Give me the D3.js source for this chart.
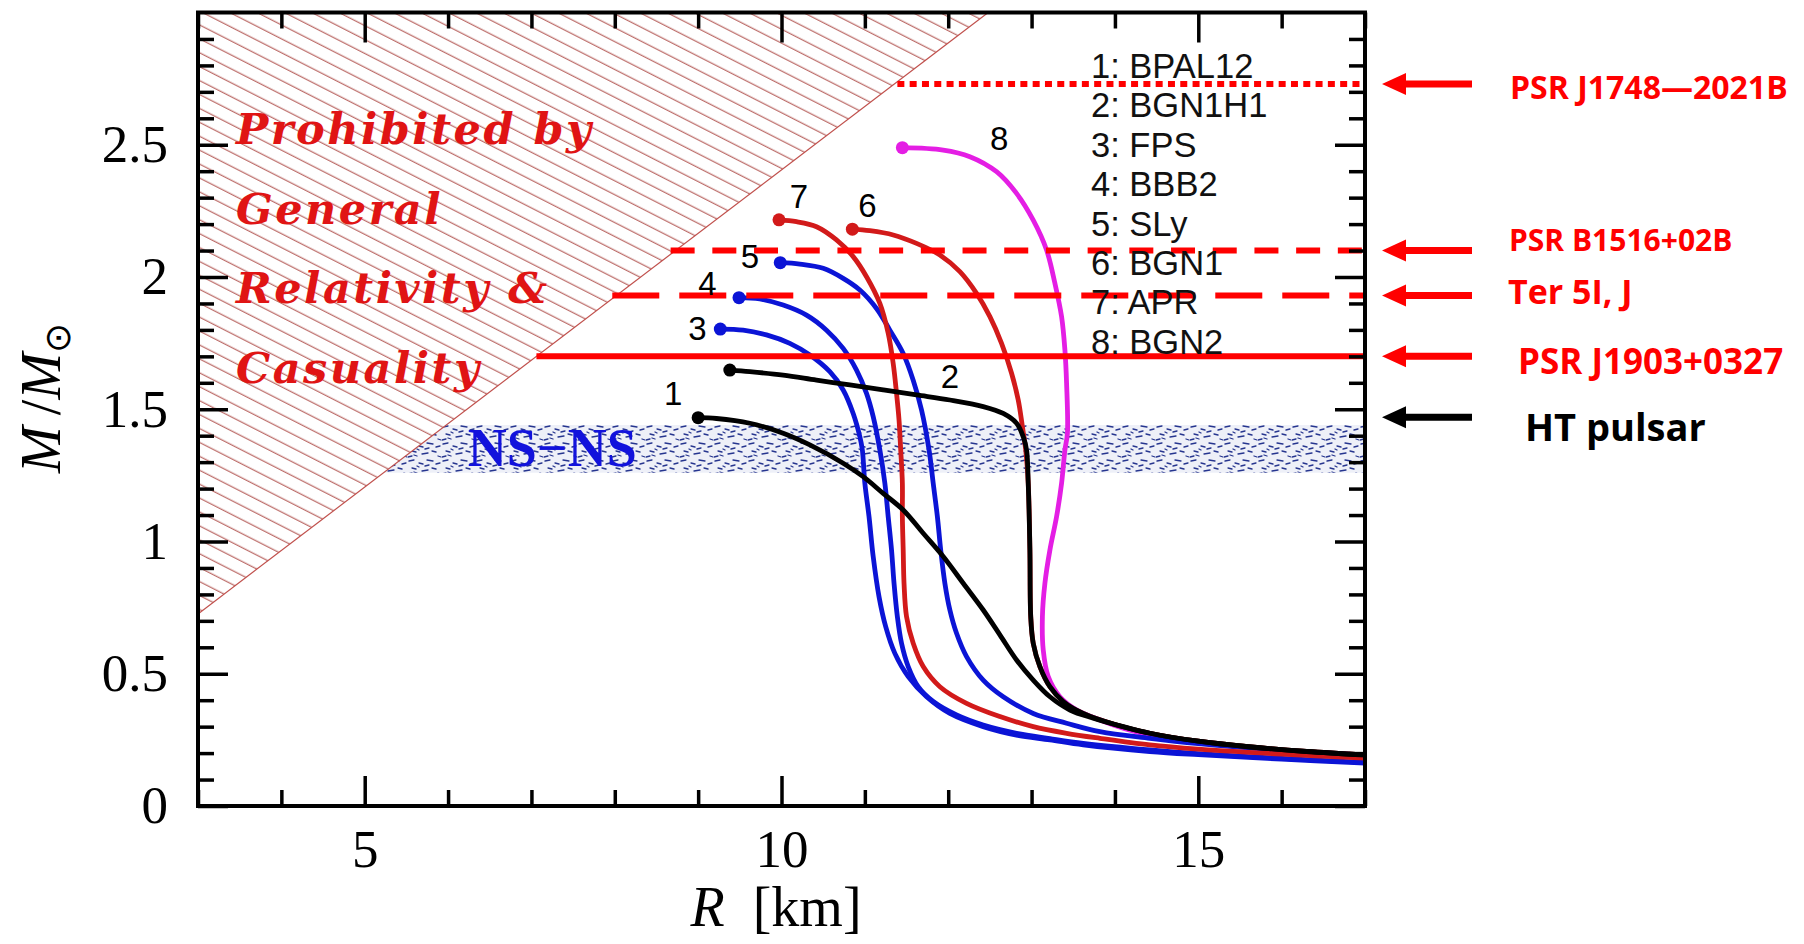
<!DOCTYPE html>
<html>
<head>
<meta charset="utf-8">
<script src="https://cdn.jsdelivr.net/npm/d3@7"></script>
<style>
  body { margin: 0; background: #fff; }
  svg { display: block; }
</style>
</head>
<body>
<svg width="1804" height="944"></svg>
<script>
// mass-radius relations, [R (km), M/Msun]
const bpal12 = [[9.00,1.468],[9.22,1.465],[9.62,1.447],[10.02,1.409],[10.34,1.365],[10.74,1.296],[10.98,1.245],[11.22,1.182],[11.46,1.119],[11.70,1.031],[11.94,0.943],[12.18,0.842],[12.42,0.741],[12.62,0.647],[12.82,0.552],[13.02,0.476],[13.22,0.413],[13.46,0.363],[13.74,0.332],[14.10,0.300],[14.42,0.275],[15,0.245],[15.6,0.224],[16.3,0.206],[17,0.193]];
const bgn1h1 = [[9.38,1.648],[9.62,1.642],[10.02,1.629],[10.42,1.610],[10.82,1.592],[11.22,1.573],[11.62,1.554],[12.02,1.535],[12.42,1.510],[12.66,1.484],[12.82,1.447],[12.90,1.396],[12.94,1.346],[12.96,1.220],[12.98,0.968],[12.99,0.716],[13.02,0.615],[13.10,0.527],[13.22,0.451],[13.38,0.395],[13.62,0.350],[14.02,0.306],[14.42,0.275],[15,0.245],[15.6,0.224],[16.3,0.206],[17,0.193]];
const fps = [[9.266,1.803],[9.54,1.799],[9.82,1.781],[10.10,1.749],[10.34,1.705],[10.58,1.642],[10.74,1.573],[10.86,1.484],[10.94,1.396],[10.97,1.346],[11.00,1.220],[11.05,1.094],[11.10,0.943],[11.17,0.791],[11.25,0.678],[11.36,0.577],[11.52,0.489],[11.74,0.413],[12.02,0.350],[12.42,0.300],[12.82,0.268],[13.22,0.250],[13.62,0.231],[14.42,0.206],[15,0.194],[16,0.177],[17,0.162]];
const bbb2 = [[9.49,1.922],[9.74,1.917],[10.02,1.894],[10.30,1.856],[10.54,1.799],[10.74,1.730],[10.90,1.648],[11.02,1.560],[11.10,1.472],[11.18,1.346],[11.24,1.220],[11.28,1.094],[11.32,0.968],[11.35,0.842],[11.39,0.716],[11.44,0.615],[11.52,0.527],[11.64,0.451],[11.82,0.395],[12.10,0.344],[12.42,0.306],[12.82,0.275],[13.22,0.255],[13.62,0.237],[14.42,0.212],[15,0.198],[16,0.180],[17,0.165]];
const sly = [[9.985,2.054],[10.22,2.049],[10.50,2.033],[10.74,1.995],[10.94,1.951],[11.14,1.881],[11.30,1.799],[11.46,1.711],[11.58,1.610],[11.68,1.497],[11.77,1.346],[11.82,1.220],[11.87,1.094],[11.91,0.968],[11.96,0.842],[12.02,0.741],[12.10,0.653],[12.22,0.565],[12.42,0.476],[12.66,0.413],[13.02,0.350],[13.42,0.313],[13.82,0.281],[14.42,0.256],[15,0.236],[16,0.210],[17,0.190]];
const bgn1 = [[10.85,2.181],[11.06,2.175],[11.34,2.159],[11.62,2.127],[11.90,2.083],[12.14,2.020],[12.34,1.938],[12.50,1.850],[12.64,1.749],[12.76,1.636],[12.84,1.535],[12.89,1.434],[12.93,1.346],[12.96,1.220],[12.98,0.968],[12.99,0.716],[13.02,0.615],[13.10,0.527],[13.22,0.451],[13.38,0.395],[13.62,0.350],[14.02,0.306],[14.42,0.275],[15,0.245],[15.6,0.224],[16.3,0.206],[17,0.193]];
const apr = [[9.97,2.216],[10.18,2.209],[10.42,2.190],[10.66,2.140],[10.86,2.077],[11.02,2.001],[11.18,1.900],[11.28,1.787],[11.34,1.673],[11.38,1.560],[11.41,1.459],[11.43,1.346],[11.45,1.220],[11.45,1.094],[11.46,0.968],[11.47,0.842],[11.50,0.716],[11.58,0.615],[11.70,0.527],[11.90,0.451],[12.22,0.388],[12.62,0.338],[13.02,0.300],[13.42,0.275],[13.82,0.256],[14.42,0.231],[15,0.215],[16,0.196],[17,0.181]];
const bgn2 = [[11.45,2.489],[11.94,2.480],[12.26,2.455],[12.58,2.398],[12.82,2.316],[13.02,2.215],[13.18,2.102],[13.28,1.976],[13.36,1.850],[13.40,1.724],[13.42,1.598],[13.43,1.409],[13.40,1.346],[13.36,1.220],[13.30,1.094],[13.22,0.968],[13.16,0.842],[13.13,0.716],[13.14,0.590],[13.20,0.489],[13.34,0.413],[13.54,0.363],[13.82,0.325],[14.10,0.294],[14.42,0.268],[15,0.243],[16,0.210],[17,0.193]];

const eosNames = ["BPAL12", "BGN1H1", "FPS", "BBB2", "SLy", "BGN1", "APR", "BGN2"];
const eosCurves = [bpal12, bgn1h1, fps, bbb2, sly, bgn1, apr, bgn2];
const eosColors = ["#000000", "#000000", "#0b14d6", "#0b14d6", "#0b14d6", "#d21a1a", "#d21a1a", "#e41ee4"];
// where the curve numbers sit, [R, M]
const eosLabelAt = [[8.70,1.516],[12.02,1.580],[8.99,1.762],[9.11,1.932],[9.62,2.034],[11.03,2.227],[10.21,2.261],[12.61,2.480]];
const drawOrder = [5, 7, 2, 3, 4, 6, 0, 1];

// observed pulsar masses
const psrNames = ["PSR J1748\u20142021B", "PSR B1516+02B", "Ter 5I, J", "PSR J1903+0327", "HT pulsar"];
const psrMass = [2.73, 2.10, 1.93, 1.70, 1.47];
const psrLineFrom = [11.39, 8.67, 7.97, 7.06, null];

// causality limit (edge of the hatched region) and NS-NS band
const causality = [[3, 0.726], [12.48, 3]];
const nsnsBand = [1.26, 1.44];

const xTicks = [5, 10, 15];
const yTicks = [0, 0.5, 1, 1.5, 2, 2.5];

const svg = d3.select("svg");
const x = d3.scaleLinear().domain([3, 17]).range([198, 1365]);
const y = d3.scaleLinear().domain([0, 3]).range([806, 12.5]);

const defs = svg.append("defs");
defs.append("clipPath").attr("id", "plot")
  .append("rect").attr("x", x(3)).attr("y", y(3))
  .attr("width", x(17) - x(3)).attr("height", y(0) - y(3));

const hatch = defs.append("pattern").attr("id", "hatch")
  .attr("patternUnits", "userSpaceOnUse")
  .attr("width", 40).attr("height", 12.4)
  .attr("patternTransform", "rotate(27)");
hatch.append("line").attr("x1", 0).attr("x2", 40).attr("y1", 6).attr("y2", 6)
  .attr("stroke", "#a8403c").attr("stroke-width", 1);

// speckle texture for the NS-NS band
const speck = defs.append("pattern").attr("id", "speck")
  .attr("patternUnits", "userSpaceOnUse").attr("width", 34).attr("height", 17);
speck.append("rect").attr("width", 34).attr("height", 17).attr("fill", "#eef0f8");
const dashes = [[1,2,6,1],[11,4,15,5],[19,1,25,2],[28,5,32,4],[4,9,8,10],[14,12,20,11],[24,9,28,10],[30,14,33,15],[0,15,4,14],[9,7,11,8],[17,7,21,6],[6,13,9,14]];
speck.selectAll("line").data(dashes).enter().append("line")
  .attr("x1", d => d[0]).attr("y1", d => d[1]).attr("x2", d => d[2]).attr("y2", d => d[3])
  .attr("stroke", "#26358f").attr("stroke-width", 1.3).attr("stroke-linecap", "round");

const slope = (causality[1][1] - causality[0][1]) / (causality[1][0] - causality[0][0]);
const edgeR = m => causality[0][0] + (m - causality[0][1]) / slope;

const plot = svg.append("g").attr("clip-path", "url(#plot)");

// NS-NS band
plot.append("path")
  .attr("d", d3.line()([
    [x(edgeR(nsnsBand[1])), y(nsnsBand[1])], [x(17), y(nsnsBand[1])],
    [x(17), y(nsnsBand[0])], [x(edgeR(nsnsBand[0])), y(nsnsBand[0])]
  ]) + "Z")
  .attr("fill", "url(#speck)");

// hatched region
plot.append("path")
  .attr("d", d3.line()([[x(3), y(causality[0][1])], [x(3), y(3)], [x(causality[1][0]), y(3)]]) + "Z")
  .attr("fill", "url(#hatch)");
plot.append("line")
  .attr("x1", x(causality[0][0])).attr("y1", y(causality[0][1]))
  .attr("x2", x(causality[1][0])).attr("y2", y(causality[1][1]))
  .attr("stroke", "#c0504c").attr("stroke-width", 1.2);

svg.append("text").attr("x", x(7.25)).attr("y", y(1.285))
  .attr("text-anchor", "middle")
  .attr("font-family", "Liberation Serif").attr("font-weight", "bold")
  .attr("font-size", 54).attr("fill", "#1212dc")
  .text("NS\u2212NS");

const prohibited = ["Prohibited by", "General", "Relativity &", "Casuality"];
svg.append("g").selectAll("text").data(prohibited).enter().append("text")
  .attr("x", 236).attr("y", (d, i) => 144 + i * 79.5)
  .attr("font-family", "DejaVu Serif").attr("font-weight", "bold").attr("font-style", "italic")
  .attr("font-size", 43).attr("letter-spacing", 2.5).attr("fill", "#e01414")
  .text(d => d);

// curves
const line = d3.line().x(d => x(d[0])).y(d => y(d[1])).curve(d3.curveCatmullRom.alpha(0.5));
const curves = plot.append("g");
drawOrder.forEach(i => {
  curves.append("path").attr("d", line(eosCurves[i]))
    .attr("fill", "none").attr("stroke", eosColors[i]).attr("stroke-width", 4.8)
    .attr("stroke-linejoin", "round");
});
drawOrder.forEach(i => {
  curves.append("circle").attr("cx", x(eosCurves[i][0][0])).attr("cy", y(eosCurves[i][0][1]))
    .attr("r", 6.5).attr("fill", eosColors[i]);
});
svg.append("g").selectAll("text").data(eosLabelAt).enter().append("text")
  .attr("x", d => x(d[0])).attr("y", d => y(d[1]))
  .attr("text-anchor", "middle")
  .attr("font-family", "Liberation Sans").attr("font-size", 33)
  .text((d, i) => i + 1);

// legend
svg.append("g").selectAll("text").data(eosNames).enter().append("text")
  .attr("x", 1091).attr("y", (d, i) => 78 + i * 39.4)
  .attr("font-family", "Liberation Sans").attr("font-size", 34.5)
  .attr("fill", "#111")
  .text((d, i) => (i + 1) + ": " + d);

// observed mass lines
const dashFor = ["7 5.3", "24 17.7", "47 20", null, null];
psrMass.forEach((m, i) => {
  if (psrLineFrom[i] === null) return;
  plot.append("line")
    .attr("x1", x(psrLineFrom[i])).attr("x2", x(17))
    .attr("y1", y(m)).attr("y2", y(m))
    .attr("stroke", "#ff0000").attr("stroke-width", 6)
    .attr("stroke-dasharray", dashFor[i]);
});

// frame and ticks
function ticks(axis, transform, size, values) {
  const g = svg.append("g").attr("transform", transform)
    .call(axis.tickValues(values).tickSize(size).tickFormat(""));
  g.select(".domain").remove();
  g.selectAll(".tick line").attr("stroke", "#000").attr("stroke-width", 3.5);
  return g;
}
const xMinor = d3.range(3, 18, 1).filter(v => v % 5 !== 0);
const yMinor = d3.range(1, 30).map(v => v / 10).filter(v => Math.round(v * 10) % 5 !== 0);
ticks(d3.axisBottom(x), `translate(0,${y(0)})`, -16, xMinor);
ticks(d3.axisBottom(x), `translate(0,${y(0)})`, -30, xTicks);
ticks(d3.axisTop(x), `translate(0,${y(3)})`, -16, xMinor);
ticks(d3.axisTop(x), `translate(0,${y(3)})`, -30, xTicks);
ticks(d3.axisLeft(y), `translate(${x(3)},0)`, -16, yMinor);
ticks(d3.axisLeft(y), `translate(${x(3)},0)`, -30, yTicks);
ticks(d3.axisRight(y), `translate(${x(17)},0)`, -16, yMinor);
ticks(d3.axisRight(y), `translate(${x(17)},0)`, -30, yTicks);

svg.append("rect").attr("x", x(3)).attr("y", y(3))
  .attr("width", x(17) - x(3)).attr("height", y(0) - y(3))
  .attr("fill", "none").attr("stroke", "#000").attr("stroke-width", 4);

// tick labels
const xLab = svg.append("g").attr("transform", `translate(0,${y(0)})`)
  .call(d3.axisBottom(x).tickValues(xTicks).tickSize(0).tickPadding(23).tickFormat(d3.format("d")));
xLab.select(".domain").remove();
xLab.selectAll("text").attr("font-family", "Liberation Serif").attr("font-size", 53).attr("fill", "#000");

const yLab = svg.append("g").attr("transform", `translate(${x(3)},0)`)
  .call(d3.axisLeft(y).tickValues(yTicks).tickSize(0).tickPadding(30).tickFormat(d => d));
yLab.select(".domain").remove();
yLab.selectAll("text").attr("font-family", "Liberation Serif").attr("font-size", 53).attr("fill", "#000");

// axis titles
const xt = svg.append("text").attr("x", 776).attr("y", 926).attr("text-anchor", "middle")
  .attr("font-family", "Liberation Serif").attr("font-size", 56);
xt.append("tspan").attr("font-style", "italic").text("R");
xt.append("tspan").text("\u2002[km]");

const yt = svg.append("text").attr("transform", "translate(60,398) rotate(-90)")
  .attr("text-anchor", "middle")
  .attr("font-family", "Liberation Serif").attr("font-size", 56);
yt.append("tspan").attr("font-style", "italic").text("M");
yt.append("tspan").text("\u2009/");
yt.append("tspan").attr("font-style", "italic").text("M");
yt.append("tspan").attr("font-size", 36).attr("dy", 10).text("\u2299");

// arrows and pulsar names
const labelStyle = [
  { dx: 1510, dy: 15, size: 32 },
  { dx: 1509, dy: 0, size: 30 },
  { dx: 1508, dy: 8, size: 34 },
  { dx: 1518, dy: 18, size: 35 },
  { dx: 1525, dy: 24, size: 38 }
];
psrMass.forEach((m, i) => {
  const yy = y(m);
  const col = psrNames[i] === "HT pulsar" ? "#000" : "#ff0000";
  svg.append("path")
    .attr("d", `M1382,${yy} L1406,${yy - 11} L1406,${yy - 3.5} L1472,${yy - 3.5} L1472,${yy + 3.5} L1406,${yy + 3.5} L1406,${yy + 11} Z`)
    .attr("fill", col);
  svg.append("text")
    .attr("x", labelStyle[i].dx).attr("y", yy + labelStyle[i].dy)
    .attr("font-family", "Open Sans").attr("font-weight", "bold")
    .attr("font-size", labelStyle[i].size).attr("fill", col)
    .text(psrNames[i]);
});
</script>
</body>
</html>
